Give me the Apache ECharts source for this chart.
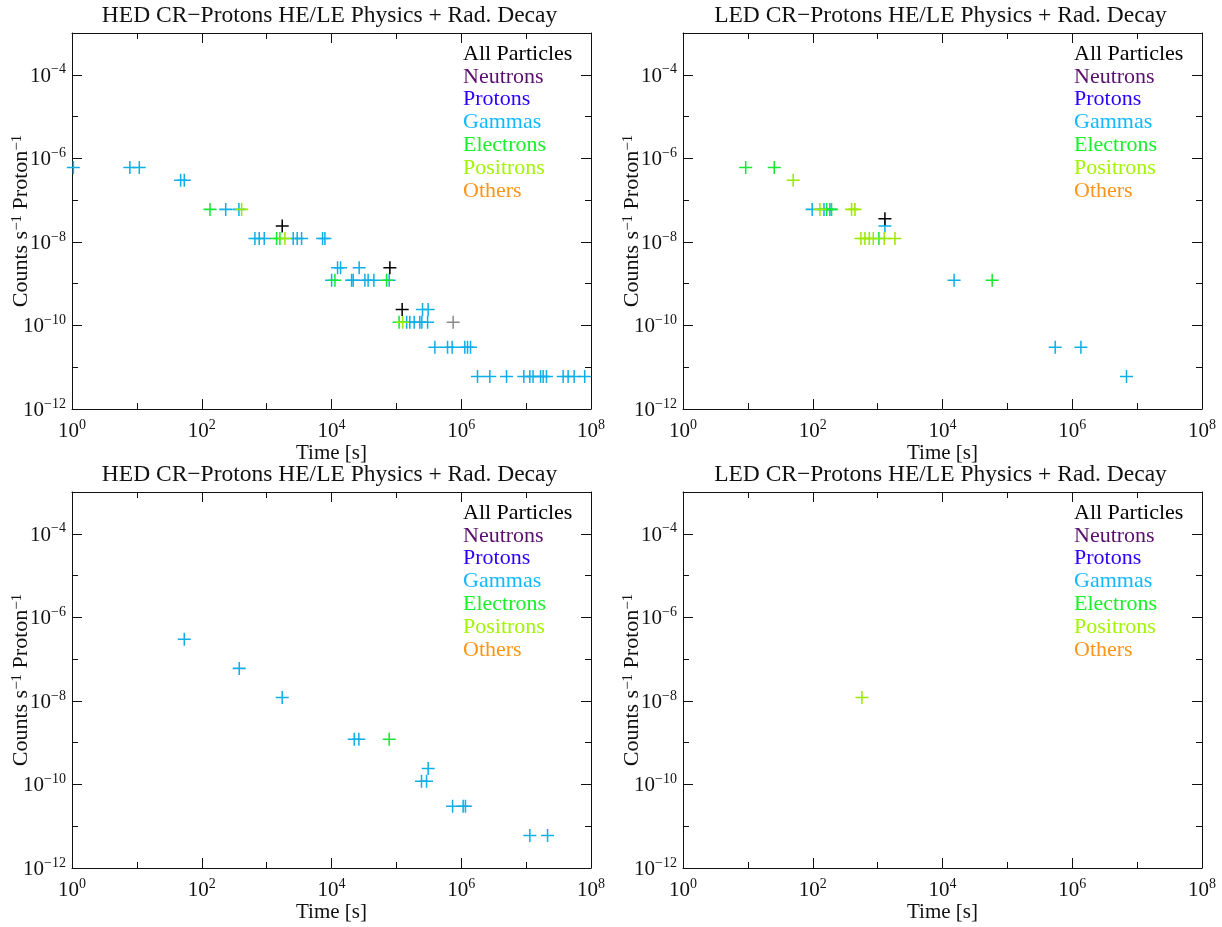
<!DOCTYPE html>
<html><head><meta charset="utf-8">
<script src="https://cdn.jsdelivr.net/npm/echarts@6/dist/echarts.min.js"></script>
<style>html,body{margin:0;padding:0;background:#fff}#c{width:1222px;height:927px}</style>
</head><body><div id="c"></div>
<script>
// ---------- text ----------
const panelTitles = [
  'HED CR\u2212Protons HE/LE Physics + Rad. Decay',
  'LED CR\u2212Protons HE/LE Physics + Rad. Decay',
  'HED CR\u2212Protons HE/LE Physics + Rad. Decay',
  'LED CR\u2212Protons HE/LE Physics + Rad. Decay'
];
const legendLabels = ['All Particles', 'Neutrons', 'Protons', 'Gammas', 'Electrons', 'Positrons', 'Others'];
const xAxisTitle = 'Time [s]';
const yAxisTitle = 'Counts s{s|\u22121} Proton{s|\u22121}';
const xRange = [1, 1e8];
const yRange = [1e-12, 1e-3];

// ---------- data: [time (s), counts s^-1 proton^-1] ----------
// Panel 1: HED (top)
const hedTopAll = [[1740, 2.4e-8], [79400, 2.4e-9], [122800, 2.4e-10]];
const hedTopAllFaint = [[750000, 1.2e-10]];
const hedTopGammas = [
  [1.05, 6e-7], [7.8, 6e-7], [10.9, 6e-7],
  [47.3, 3e-7], [53.8, 3e-7],
  [234, 6e-8], [374, 6e-8],
  [660, 1.2e-8], [769, 1.2e-8], [919, 1.2e-8], [2570, 1.2e-8], [2960, 1.2e-8], [3457, 1.2e-8], [7290, 1.2e-8], [7910, 1.2e-8],
  [12400, 2.4e-9], [13800, 2.4e-9], [26700, 2.4e-9],
  [10040, 1.2e-9], [20400, 1.2e-9], [21600, 1.2e-9], [32700, 1.2e-9], [36700, 1.2e-9], [45000, 1.2e-9], [77500, 1.2e-9],
  [253000, 2.4e-10], [309000, 2.4e-10],
  [144000, 1.2e-10], [161000, 1.2e-10], [188000, 1.2e-10], [230000, 1.2e-10], [247000, 1.2e-10], [303000, 1.2e-10],
  [392000, 3e-11], [615000, 3e-11], [724000, 3e-11], [1.135e6, 3e-11], [1.25e6, 3e-11], [1.39e6, 3e-11],
  [1.78e6, 6e-12], [2.76e6, 6e-12], [4.99e6, 6e-12], [9.22e6, 6e-12], [1.14e7, 6e-12], [1.28e7, 6e-12],
  [1.67e7, 6e-12], [1.83e7, 6e-12], [2.06e7, 6e-12], [3.72e7, 6e-12], [4.44e7, 6e-12], [5.5e7, 6e-12], [8.0e7, 6e-12]
];
const hedTopElectrons = [[134, 6e-8], [1426, 1.2e-8], [1603, 1.2e-8], [11300, 1.2e-9], [70600, 1.2e-9], [110000, 1.2e-10]];
const hedTopPositrons = [[412, 6e-8], [1914, 1.2e-8], [125000, 1.2e-10]];

// Panel 2: LED (top)
const ledTopAll = [[1295, 3.6e-8]];
const ledTopGammas = [[98, 6e-8], [149, 6e-8], [184, 6e-8], [1295, 2.4e-8], [15100, 1.2e-9], [546000, 3e-11], [1.36e6, 3e-11], [6.86e6, 6e-12]];
const ledTopElectrons = [[9.25, 6e-7], [25.5, 6e-7], [164, 6e-8], [195, 6e-8], [1047, 1.2e-8], [58300, 1.2e-9]];
const ledTopPositrons = [[50, 3e-7], [129, 6e-8], [397, 6e-8], [447, 6e-8], [553, 1.2e-8], [637, 1.2e-8], [743, 1.2e-8], [857, 1.2e-8], [1265, 1.2e-8], [1849, 1.2e-8]];

// Panel 3: HED (bottom)
const hedBotGammas = [[53.8, 3e-7], [378, 6e-8], [1740, 1.2e-8], [22400, 1.2e-9], [26400, 1.2e-9], [309000, 2.4e-10], [244000, 1.2e-10], [292000, 1.2e-10], [735000, 3e-11], [1.07e6, 3e-11], [1.16e6, 3e-11], [1.14e7, 6e-12], [2.14e7, 6e-12]];
const hedBotElectrons = [[77500, 1.2e-9]];

// Panel 4: LED (bottom)
const ledBotPositrons = [[573, 1.2e-8]];

// ---------- styling ----------
const legendColors = ['#000000', '#5a0f6e', '#2a00ff', '#12b8ff', '#18f02a', '#a2f500', '#ff9418'];
const markColors = {all: '#000000', allFaint: '#8a8a8a', gammas: '#10aee8', electrons: '#14e830', positrons: '#9be800'};
const FONT = '"Liberation Serif", "DejaVu Serif", serif';
const grids = [
  {left: 72, top: 33, width: 519, height: 376},
  {left: 683, top: 33, width: 519, height: 376},
  {left: 72, top: 492, width: 519, height: 376},
  {left: 683, top: 492, width: 519, height: 376}
];
const panelSeries = [
  [['gammas', hedTopGammas], ['electrons', hedTopElectrons], ['positrons', hedTopPositrons], ['allFaint', hedTopAllFaint], ['all', hedTopAll]],
  [['gammas', ledTopGammas], ['electrons', ledTopElectrons], ['positrons', ledTopPositrons], ['all', ledTopAll]],
  [['gammas', hedBotGammas], ['electrons', hedBotElectrons]],
  [['positrons', ledBotPositrons]]
];
const plusPath = 'path://M5.3,0H6.7V5.3H12V6.7H6.7V12H5.3V6.7H0V5.3H5.3Z';

const lineStyle = {color: '#111', width: 1};
const rich = {
  b: {fontFamily: FONT, fontSize: 21, color: '#111', lineHeight: 24, verticalAlign: 'bottom'},
  s: {fontFamily: FONT, fontSize: 14, color: '#111', lineHeight: 14, verticalAlign: 'top'}
};
function powLabel(v) {
  const e = Math.round(Math.log10(v));
  if (e % 2 !== 0) return '';
  return '{b|10}{s|' + (e < 0 ? '\u2212' + (-e) : e) + '}';
}

const xAxes = [], yAxes = [], series = [], graphic = [];
grids.forEach((g, gi) => {
  const xe = [Math.log10(xRange[0]), Math.log10(xRange[1])];
  const ye = [Math.log10(yRange[0]), Math.log10(yRange[1])];
  // main log axes carrying the data
  xAxes.push({
    type: 'log', logBase: 10, gridIndex: gi, min: xRange[0], max: xRange[1], position: 'bottom',
    axisLine: {show: true, onZero: false, lineStyle},
    axisTick: {show: true, inside: true, length: 6, lineStyle},
    axisLabel: {show: true, margin: 9, formatter: powLabel, rich, hideOverlap: false, showMinLabel: true, showMaxLabel: true},
    splitLine: {show: false}, minorTick: {show: false},
    name: xAxisTitle, nameLocation: 'middle', nameGap: 34, nameMoveOverlap: false,
    nameTextStyle: {fontFamily: FONT, fontSize: 21, color: '#111'}
  });
  yAxes.push({
    type: 'log', logBase: 10, gridIndex: gi, min: yRange[0], max: yRange[1], position: 'left',
    axisLine: {show: true, onZero: false, lineStyle},
    axisTick: {show: true, inside: true, length: 6, lineStyle},
    axisLabel: {show: true, margin: 6, formatter: powLabel, rich, hideOverlap: false, showMinLabel: true, showMaxLabel: true},
    splitLine: {show: false}, minorTick: {show: false},
    name: yAxisTitle, nameLocation: 'middle', nameGap: 40, nameRotate: 90, nameMoveOverlap: false,
    nameTextStyle: {fontFamily: FONT, fontSize: 22, color: '#111', rich: {
      s: {fontFamily: FONT, fontSize: 15, color: '#111', lineHeight: 14, verticalAlign: 'top'}
    }}
  });
  // decorative tick axes in exponent space
  const deco = (pos, ext, interval, len, showLine) => ({
    type: 'value', gridIndex: gi, min: ext[0], max: ext[1], interval, position: pos,
    axisLine: {show: showLine, onZero: false, lineStyle},
    axisTick: {show: true, inside: true, length: len, lineStyle},
    axisLabel: {show: false}, splitLine: {show: false}
  });
  xAxes.push(deco('bottom', xe, 2, 10, false));
  xAxes.push(deco('top', xe, 1, 6, true));
  xAxes.push(deco('top', xe, 2, 10, false));
  yAxes.push(deco('left', ye, 2, 10, false));
  yAxes.push(deco('right', ye, 1, 6, true));
  yAxes.push(deco('right', ye, 2, 10, false));

  panelSeries[gi].forEach(([kind, data]) => {
    series.push({
      type: 'scatter', xAxisIndex: gi * 4, yAxisIndex: gi * 4, data,
      symbol: plusPath, symbolSize: 13, itemStyle: {color: markColors[kind], opacity: 1},
      silent: true, animation: false
    });
  });

  graphic.push({
    type: 'text', x: g.left + g.width / 2 - 2, y: g.top - 17,
    style: {text: panelTitles[gi], font: '23.5px ' + FONT, fill: '#111', align: 'center', verticalAlign: 'middle'}
  });
  legendLabels.forEach((t, k) => {
    graphic.push({
      type: 'text', x: g.left + 391, y: g.top + 21 + k * 22.8,
      style: {text: t, font: '22px ' + FONT, fill: legendColors[k], align: 'left', verticalAlign: 'middle'}
    });
  });
});

const chart = echarts.init(document.getElementById('c'), null, {renderer: 'canvas'});
chart.setOption({
  backgroundColor: '#ffffff',
  animation: false,
  grid: grids.map(g => Object.assign({containLabel: false}, g)),
  xAxis: xAxes, yAxis: yAxes, series, graphic
});
</script></body></html>
